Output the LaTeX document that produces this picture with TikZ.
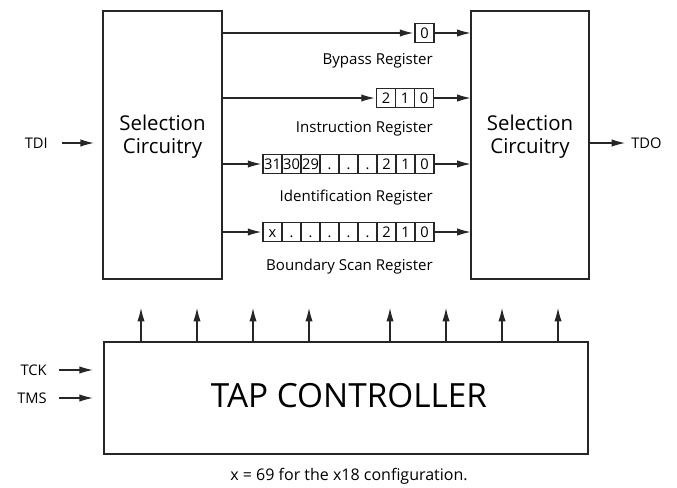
\documentclass[tikz,border=0pt]{standalone}
\usepackage{fontspec}
\setmainfont{Open Sans}
\usetikzlibrary{arrows.meta}
\begin{document}
\begin{tikzpicture}[x=0.75pt,y=-0.75pt,
  ln/.style={line width=0.8pt,draw=black!85},
  arr/.style={ln,-{Latex[length=10pt,width=5.5pt]}},
  blk/.style={ln,rectangle,inner sep=0pt},
  cell/.style={ln,rectangle,inner sep=0pt,minimum width=14.25pt,minimum height=14.25pt,
    text height=7.8pt,text depth=0pt,font=\fontsize{11pt}{13pt}\selectfont},
  lbl/.style={inner sep=0pt,font=\fontsize{11.3pt}{13pt}\selectfont},
  pin/.style={inner sep=0pt,font=\fontsize{11pt}{13pt}\selectfont},
  seltxt/.style={inner sep=0pt,align=center,font=\fontsize{15.3pt}{17.5pt}\selectfont}
]
\useasboundingbox (0,0) rectangle (677,487);
% selection boxes
\node[blk,minimum width=89.25pt,minimum height=201pt] (selL) at (162.5,145) {};
\node[blk,minimum width=88.5pt,minimum height=201pt] (selR) at (530,145) {};
\node[seltxt] (selLt) at (162.5,137) {Selection\\Circuitry};
\node[seltxt] (selRt) at (530,137) {Selection\\Circuitry};
% TDI / TDO
\node[pin,anchor=east] (tdi) at (48,143) {TDI};
\draw[arr,shorten <=10.5pt,shorten >=6.5pt] (tdi.east) -- (tdi.east -| selL.west);
\node[pin,anchor=west] (tdo) at (631,143) {TDO};
\draw[arr,shorten >=4.5pt] (tdo.west -| selR.east) -- (tdo.west);
% Bypass register
\node[cell] (b0) at (424.5,33) {0};
\draw[arr,shorten >=1pt] (b0.west -| selL.east) -- (b0.west);
\draw[arr] (b0.east) -- (b0.east -| selR.west);
\node[lbl,anchor=east] (blbl) at (433,61) {Bypass Register};
% Instruction register
\foreach \t [count=\i] in {2,1,0}
  \node[cell] (i\i) at (367+19*\i,98) {\t};
\draw[arr,shorten >=1pt] (i1.west -| selL.east) -- (i1.west);
\draw[arr] (i3.east) -- (i3.east -| selR.west);
\node[lbl,anchor=east] (ilbl) at (433,129) {Instruction Register};
% Identification register
\foreach \t [count=\i] in {31,30,29,.,.,.,2,1,0}
  \node[cell] (d\i) at (253.5+19*\i,164) {\t};
\draw[arr,shorten >=1pt] (d1.west -| selL.east) -- (d1.west);
\draw[arr] (d9.east) -- (d9.east -| selR.west);
\node[lbl,anchor=east] (dlbl) at (433,198) {Identification Register};
% Boundary scan register
\foreach \t [count=\i] in {x,.,.,.,.,.,2,1,0}
  \node[cell] (s\i) at (253.5+19*\i,232) {\t};
\draw[arr,shorten >=1pt] (s1.west -| selL.east) -- (s1.west);
\draw[arr] (s9.east) -- (s9.east -| selR.west);
\node[lbl,anchor=east] (slbl) at (433,267) {Boundary Scan Register};
% TAP controller
\node[blk,minimum width=363pt,minimum height=84pt] (tap) at (346,398) {};
\node[inner sep=0pt,font=\fontsize{25pt}{29pt}\selectfont] (taptxt) at (349,396) {TAP CONTROLLER};
\foreach \x [count=\k] in {141,197,253,309,390,446,502,558} {
  \coordinate (u\k) at (\x,308);
  \draw[arr] (u\k |- tap.north) -- (u\k);
}
\node[pin,anchor=east] (tck) at (47,370) {TCK};
\draw[arr,shorten <=9pt,shorten >=8pt] (tck.east) -- (tck.east -| tap.west);
\node[pin,anchor=east] (tms) at (47,398) {TMS};
\draw[arr,shorten <=9pt,shorten >=8pt] (tms.east) -- (tms.east -| tap.west);
\node[inner sep=0pt,font=\fontsize{12pt}{14pt}\selectfont] (note) at (349,476) {x = 69 for the x18 configuration.};
\end{tikzpicture}
\end{document}
